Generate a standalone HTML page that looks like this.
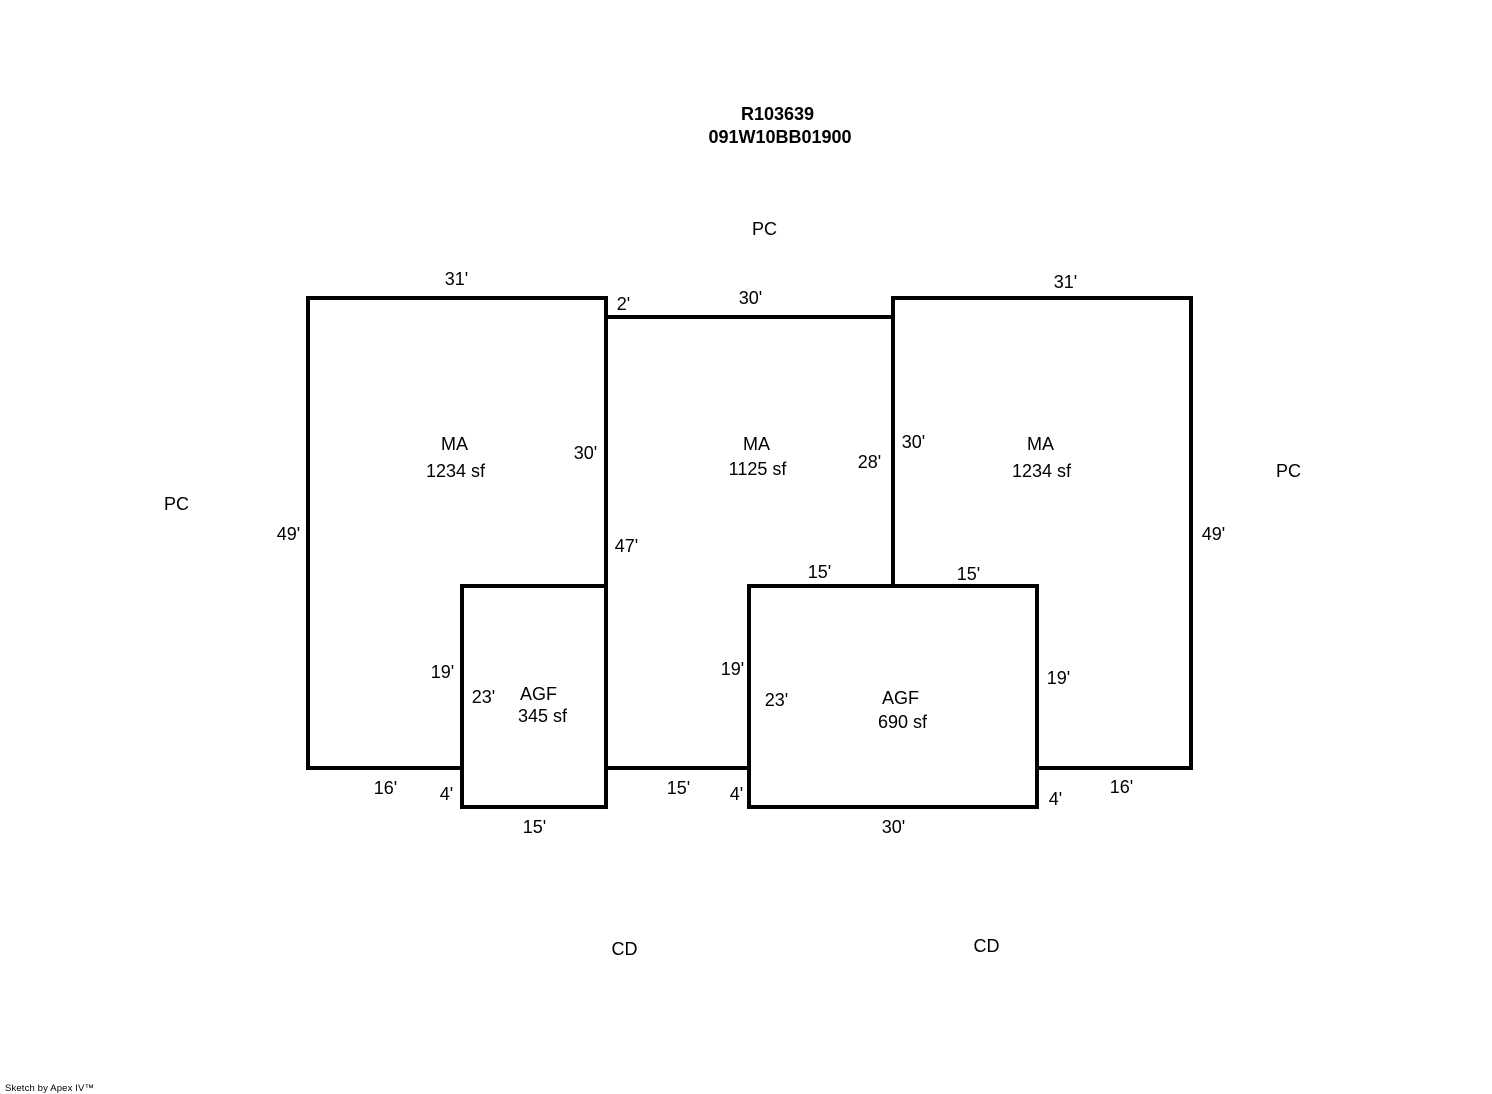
<!DOCTYPE html>
<html lang="en">
<head>
<meta charset="utf-8">
<title>R103639 Sketch</title>
<style>
html,body{margin:0;padding:0;background:#fff;}
svg{display:block;}
text{font-family:"Liberation Sans",Arial,sans-serif;font-size:18px;fill:#000;text-anchor:middle;}
.b{font-weight:bold;}
.s{font-size:9.5px;text-anchor:start;}
path{fill:none;stroke:#000;stroke-width:4;stroke-linecap:square;stroke-linejoin:miter;shape-rendering:crispEdges;}
</style>
</head>
<body>
<svg width="1492" height="1094" viewBox="0 0 1492 1094" xmlns="http://www.w3.org/2000/svg">
<rect width="1492" height="1094" fill="#fff"/>
<path d="M462 768H308V298H606V768"/>
<path d="M606 317H893"/>
<path d="M893 298H1191V768H1037"/>
<path d="M893 298V586"/>
<path d="M462 586H606V807H462Z"/>
<path d="M749 586H1037V807H749Z"/>
<path d="M606 768H749"/>

<g transform="translate(0.5,0)">
<text class="b" x="777" y="120">R103639</text>
<text class="b" x="779.5" y="143">091W10BB01900</text>

<text x="764" y="235">PC</text>
<text x="176" y="510">PC</text>
<text x="1288" y="477">PC</text>
<text x="624" y="955">CD</text>
<text x="986" y="952">CD</text>

<text x="456" y="285">31'</text>
<text x="623" y="310">2'</text>
<text x="750" y="304">30'</text>
<text x="1065" y="288">31'</text>

<text x="454" y="450">MA</text>
<text x="455" y="477">1234 sf</text>
<text x="585" y="459">30'</text>
<text x="756" y="450">MA</text>
<text x="757" y="475">1125 sf</text>
<text x="869" y="468">28'</text>
<text x="913" y="448">30'</text>
<text x="1040" y="450">MA</text>
<text x="1041" y="477">1234 sf</text>

<text x="288" y="540">49'</text>
<text x="1213" y="540">49'</text>
<text x="626" y="552">47'</text>
<text x="819" y="578">15'</text>
<text x="968" y="580">15'</text>

<text x="442" y="678">19'</text>
<text x="483" y="703">23'</text>
<text x="538" y="700">AGF</text>
<text x="542" y="722">345 sf</text>
<text x="732" y="675">19'</text>
<text x="776" y="706">23'</text>
<text x="900" y="704">AGF</text>
<text x="902" y="728">690 sf</text>
<text x="1058" y="684">19'</text>

<text x="385" y="794">16'</text>
<text x="446" y="800">4'</text>
<text x="678" y="794">15'</text>
<text x="736" y="800">4'</text>
<text x="1055" y="805">4'</text>
<text x="1121" y="793">16'</text>
<text x="534" y="833">15'</text>
<text x="893" y="833">30'</text>
</g>

<text class="s" x="5" y="1091" textLength="89" lengthAdjust="spacing">Sketch by Apex IV™</text>
</svg>
</body>
</html>
